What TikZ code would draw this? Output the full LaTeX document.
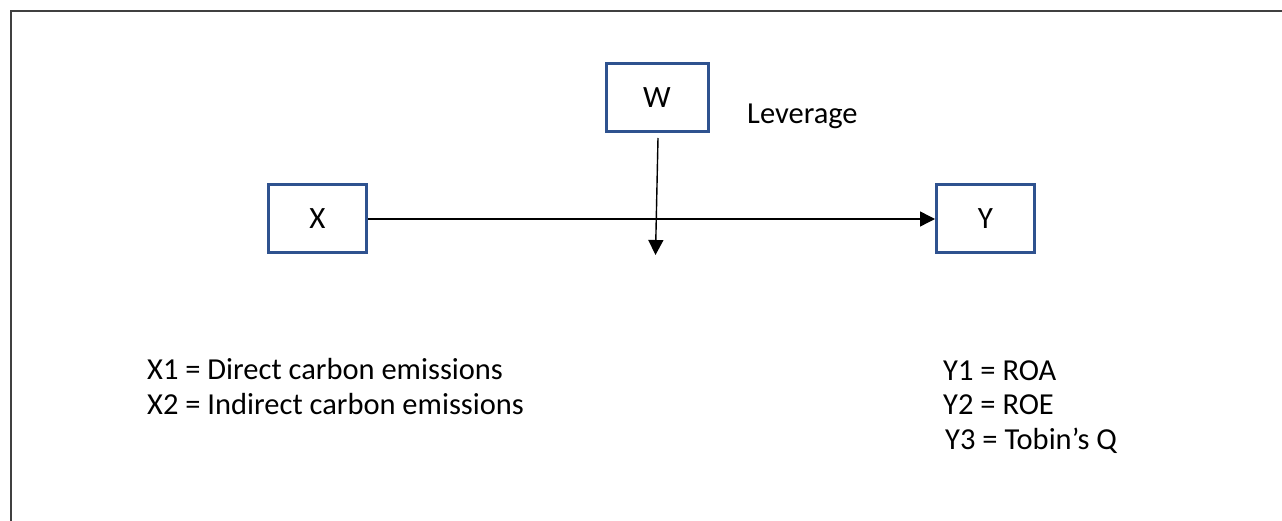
\documentclass[tikz,border=0pt]{standalone}
\usepackage{fontspec}
\setmainfont{Carlito}
\usetikzlibrary{arrows.meta,calc}
\definecolor{boxblue}{RGB}{47,82,143}
\definecolor{framegray}{RGB}{64,64,64}
\tikzset{
  varbox/.style={draw=boxblue, line width=3pt, fill=white, inner sep=0pt,
    minimum width=98pt, minimum height=68pt, font=\fontsize{31}{35}\selectfont},
  conn/.style={draw=black, line width=1.4pt, -{Triangle[length=15pt,width=15pt]}},
  note/.style={anchor=base west, inner sep=0pt, font=\fontsize{30.5}{35}\selectfont}
}
\begin{document}
\begin{tikzpicture}[x=1pt,y=-1pt]
  \useasboundingbox (0,0) rectangle (1282,521);
  % open frame: left and top edges only
  \draw[framegray, line width=2pt] (10.5,521) -- (10.5,11.5) -- (1282,11.5);

  % variable boxes
  \node[varbox] (X) at (317.5,219) {X};
  \node[varbox] (Y) at (985.5,219) {Y};
  \node[varbox, minimum width=102pt] (W) at (657,97.5) {W};

  % labels
  \node[note] (lev) at (747,124) {Leverage};
  \node[note] (x1) at (147,379) {X1 = Direct carbon emissions};
  \node[note] (x2) at (147,414) {X2 = Indirect carbon emissions};
  \node[note] (y1) at (943,380) {Y1 = ROA};
  \node[note] (y2) at (943,414) {Y2 = ROE};
  \node[note] (y3) at (945,449) {Y3 = Tobin’s Q};

  % paths
  \coordinate (wend) at (655.5,255);
  \draw[conn] (X.east) -- (Y.west);
  \draw[conn] ($(W.south)+(1,5)$) -- (wend);
\end{tikzpicture}
\end{document}
